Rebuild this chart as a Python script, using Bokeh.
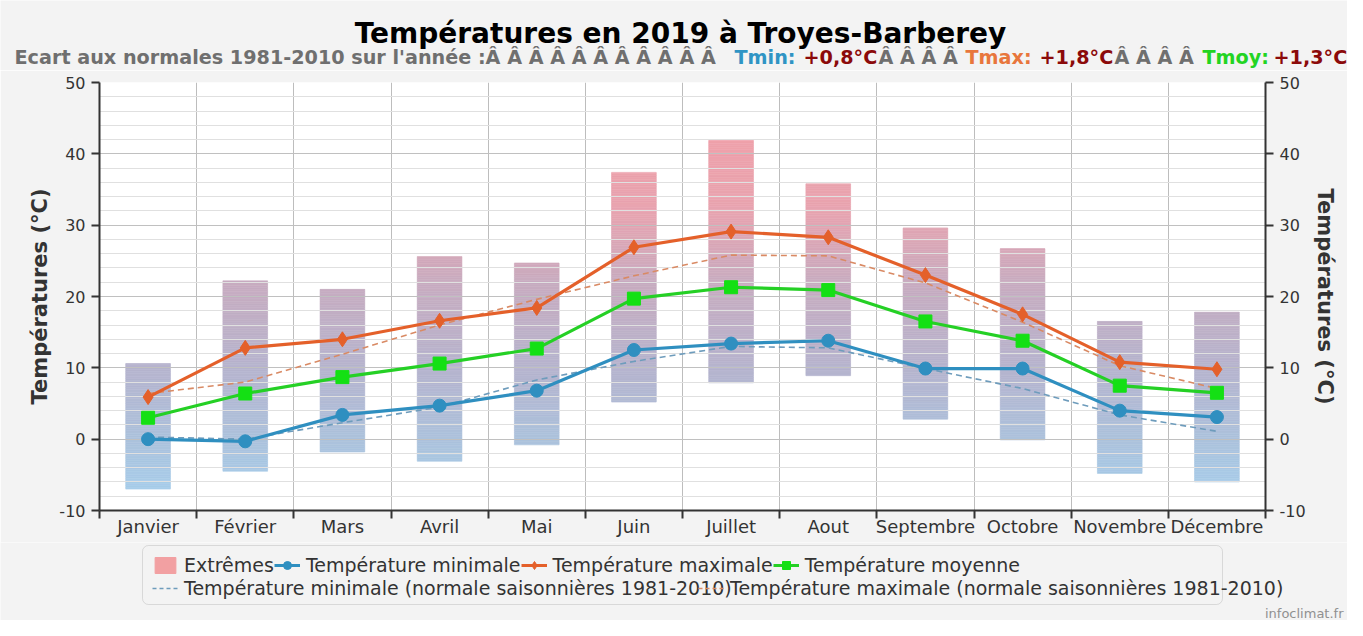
from bokeh.plotting import figure
from bokeh.layouts import column
from bokeh.models import (Range1d, FixedTicker, LinearAxis, Label, Legend, LegendItem,
                          BoxAnnotation)
from bokeh.embed import file_html
from bokeh.resources import INLINE

# ---------------- data ----------------
months = ["Janvier", "Février", "Mars", "Avril", "Mai", "Juin", "Juillet", "Aout",
          "Septembre", "Octobre", "Novembre", "Décembre"]
ext_high = [10.6, 22.2, 21.0, 25.6, 24.7, 37.4, 41.9, 35.8, 29.6, 26.7, 16.5, 17.8]
ext_low = [-7.0, -4.5, -1.8, -3.1, -0.8, 5.2, 7.9, 8.9, 2.8, -0.1, -4.8, -6.0]
tmin = [0.0, -0.3, 3.4, 4.7, 6.8, 12.5, 13.4, 13.8, 9.9, 9.9, 4.0, 3.1]
tmax = [5.9, 12.8, 14.0, 16.6, 18.4, 26.9, 29.1, 28.3, 23.0, 17.5, 10.8, 9.8]
tmoy = [3.0, 6.4, 8.7, 10.6, 12.7, 19.7, 21.3, 20.9, 16.5, 13.8, 7.5, 6.5]
norm_tmin = [0.3, 0.0, 2.3, 4.5, 8.3, 10.9, 13.0, 12.8, 9.9, 7.1, 3.4, 1.1]
norm_tmax = [6.4, 8.0, 11.9, 16.0, 19.6, 22.9, 25.8, 25.7, 21.9, 16.4, 10.3, 7.1]
y_ticks = [-10, 0, 10, 20, 30, 40, 50]
y_tick_labels = {-10: "-10", 0: "0", 10: "10", 20: "20", 30: "30", 40: "40", 50: "50"}

FONT = "DejaVu Sans"
BG = "#f3f3f3"
W = 1347
TOP_H, MAIN_H, BOT_H = 70, 472, 78          # 70 + 472 + 78 = 620
FL, FR = 99, 1265                            # frame left/right (px)
F_TOP, F_BOT = 82, 510                       # frame top/bottom in page-figure px

xs = list(range(len(months)))

BLUE = "#2f8fc0"
ORANGE = "#e4602a"
GREEN = "#25d025"
SQ = "#14e014"
NMIN = "#6e9cbc"
NMAX = "#d98a64"


def bare(h, y0, y1):
    f = figure(width=W, height=h, output_backend="svg", toolbar_location=None,
               x_range=Range1d(0, W), y_range=Range1d(y1, y0),
               x_axis_location=None, y_axis_location=None, min_border=0)
    f.frame_align = False
    f.grid.visible = False
    f.background_fill_color = BG
    f.border_fill_color = BG
    f.outline_line_color = None
    return f


def lab(text, x, y, size, color, bold=False, align="left"):
    return Label(x=x, y=y, text=text, text_font=FONT, text_font_size=f"{size}px",
                 text_color=color, text_font_style="bold" if bold else "normal",
                 text_align=align, text_baseline="alphabetic")


# ================= top: title + subtitle =================
top = bare(TOP_H, 0, TOP_H)
top.add_layout(lab("Températures en 2019 à Troyes-Barberey", 680, 33, 28, "#000000", True, "center"))
GRAY = "#6f6f6f"
DRED = "#8b0a0a"
sub = [
    ("Ecart aux normales 1981-2010 sur l'année :Â Â Â Â Â Â Â Â Â Â Â ", 14, GRAY),
    ("Tmin:", 734, "#2f94c4"),
    ("+0,8°C", 803, DRED),
    ("Â Â Â Â ", 878, GRAY),
    ("Tmax:", 965, "#e8763c"),
    ("+1,8°C", 1039, DRED),
    ("Â Â Â Â ", 1114, GRAY),
    ("Tmoy:", 1202, "#22d422"),
    ("+1,3°C", 1273, DRED),
]
for txt, x, col in sub:
    top.add_layout(lab(txt, x, 57, 19.2, col, True))

# ================= main chart =================
p = figure(width=W, height=MAIN_H, output_backend="svg", toolbar_location=None,
           x_range=Range1d(-0.5, len(months) - 0.5), y_range=Range1d(-10, 50),
           min_border_left=FL, min_border_right=W - FR, min_border_top=F_TOP - TOP_H,
           min_border_bottom=MAIN_H - (F_BOT - TOP_H), x_axis_location=None, y_axis_location=None)
p.frame_align = False
p.background_fill_color = "white"
p.border_fill_color = BG
p.outline_line_color = None

bounds = [i + 0.5 for i in range(len(months) - 1)]
p.xgrid.ticker = FixedTicker(ticks=bounds)
p.xgrid.grid_line_color = "#bdbdbd"
p.ygrid.ticker = FixedTicker(ticks=y_ticks, minor_ticks=list(range(-10, 51, 2)))
p.ygrid.grid_line_color = "#c0c0c0"
p.ygrid.minor_grid_line_color = "#e0e0e0"

xax = LinearAxis(ticker=FixedTicker(ticks=xs, minor_ticks=[i - 0.5 for i in range(len(months) + 1)]),
                 major_label_overrides={i: m for i, m in enumerate(months)})
xax.major_tick_out = 0
xax.major_tick_in = 0
xax.minor_tick_out = 8
xax.minor_tick_in = 0
xax.minor_tick_line_color = "#333333"
xax.minor_tick_line_width = 2
xax.axis_line_color = "#333333"
xax.axis_line_width = 2
xax.major_label_text_font = FONT
xax.major_label_text_font_size = "18px"
xax.major_label_text_color = "#333333"
xax.major_label_standoff = -3
p.add_layout(xax, "below")

for side in ("left", "right"):
    ax = LinearAxis(ticker=FixedTicker(ticks=y_ticks), axis_label="Températures (°C)",
                    major_label_overrides=y_tick_labels)
    ax.major_tick_out = 8
    ax.major_tick_in = 0
    ax.minor_tick_out = 0
    ax.minor_tick_in = 0
    ax.major_tick_line_color = "#333333"
    ax.major_tick_line_width = 2
    ax.axis_line_color = "#333333"
    ax.axis_line_width = 2
    ax.major_label_text_font = FONT
    ax.major_label_text_font_size = "16px"
    ax.major_label_text_color = "#333333"
    ax.major_label_standoff = 6
    ax.axis_label_text_font = FONT
    ax.axis_label_text_font_size = "21px"
    ax.axis_label_text_font_style = "bold"
    ax.axis_label_text_color = "#333333"
    ax.axis_label_standoff = 4
    p.add_layout(ax, side)

# gradient-filled extreme bars
stops = [(-10, (166, 210, 240)), (0, (172, 194, 220)), (10, (182, 180, 206)),
         (22, (200, 172, 192)), (32, (232, 164, 176)), (50, (244, 158, 166))]


def grad(t):
    if t <= stops[0][0]:
        c = stops[0][1]
    elif t >= stops[-1][0]:
        c = stops[-1][1]
    else:
        for (t0, c0), (t1, c1) in zip(stops[:-1], stops[1:]):
            if t0 <= t <= t1:
                f = (t - t0) / (t1 - t0)
                c = tuple(int(round(a + (b - a) * f)) for a, b in zip(c0, c1))
                break
    return "#%02x%02x%02x" % c


bw = 0.46
step = 0.25
L, R, B, T, C = [], [], [], [], []
for i, (lo, hi) in enumerate(zip(ext_low, ext_high)):
    y = lo
    while y < hi - 1e-9:
        y2 = min(y + step, hi)
        L.append(i - bw / 2)
        R.append(i + bw / 2)
        B.append(y)
        T.append(y2)
        C.append(grad((y + y2) / 2))
        y = y2
bars = p.quad(left=L, right=R, bottom=B, top=T, fill_color=C, line_color=C, line_width=0.6)
bars.level = "image"

p.line(xs, norm_tmin, line_color=NMIN, line_width=1.6, line_dash="6 4")
p.line(xs, norm_tmax, line_color=NMAX, line_width=1.6, line_dash="6 4")
p.line(xs, tmin, line_color=BLUE, line_width=3.2)
p.scatter(xs, tmin, marker="circle", size=13, fill_color=BLUE, line_color=BLUE)
p.line(xs, tmax, line_color=ORANGE, line_width=3.2)
p.scatter(xs, tmax, marker="diamond", size=15, fill_color=ORANGE, line_color=ORANGE)
p.line(xs, tmoy, line_color=GREEN, line_width=3.2)
p.scatter(xs, tmoy, marker="square", size=13, fill_color=SQ, line_color=SQ)

# ================= bottom: legend =================
Y0 = TOP_H + MAIN_H
bot = bare(BOT_H, Y0, Y0 + BOT_H)
bot.add_layout(BoxAnnotation(left=142, right=1222, top=545, bottom=604,
                             fill_color=BG, fill_alpha=1.0, line_color="#9a9a9a",
                             line_width=1, border_radius=6))

# legend proxies: placed far outside the visible range so only their legend glyph shows
OX, OY = [-1000, -999], [-1000, -999]
e_r = bot.quad(left=[-1000], right=[-999], bottom=[-1000], top=[-999],
               fill_color="#f2a0a2", line_color="#f2a0a2")
lmin = bot.line(OX, OY, line_color=BLUE, line_width=3)
smin = bot.scatter(OX, OY, marker="circle", size=13, fill_color=BLUE, line_color=BLUE)
lmax = bot.line(OX, OY, line_color=ORANGE, line_width=3)
smax = bot.scatter(OX, OY, marker="diamond", size=15, fill_color=ORANGE, line_color=ORANGE)
lmoy = bot.line(OX, OY, line_color=GREEN, line_width=3)
smoy = bot.scatter(OX, OY, marker="square", size=13, fill_color=SQ, line_color=SQ)
nmin = bot.line(OX, OY, line_color=NMIN, line_width=1.6, line_dash="4 3")
nmax = bot.line(OX, OY, line_color=NMAX, line_width=1.6, line_dash="4 3")


def mk_legend(items, x, ybottom):
    lg = Legend(items=items, orientation="horizontal", location=(x, ybottom))
    lg.border_line_color = None
    lg.background_fill_alpha = 0
    lg.padding = 0
    lg.margin = 0
    lg.spacing = 0
    lg.glyph_width = 26
    lg.glyph_height = 20
    lg.label_height = 20
    lg.label_standoff = 6
    lg.label_text_font = FONT
    lg.label_text_font_size = "19px"
    lg.label_text_color = "#333333"
    return lg


bot.add_layout(mk_legend([
    LegendItem(label="Extrêmes", renderers=[e_r]),
    LegendItem(label="Température minimale", renderers=[lmin, smin]),
    LegendItem(label="Température maximale", renderers=[lmax, smax]),
    LegendItem(label="Température moyenne", renderers=[lmoy, smoy]),
], 152, Y0 + BOT_H - 576))
bot.add_layout(mk_legend([LegendItem(label="Température minimale (normale saisonnières 1981-2010)",
                                     renderers=[nmin])], 152, Y0 + BOT_H - 599))
bot.add_layout(mk_legend([LegendItem(label="Température maximale (normale saisonnières 1981-2010)",
                                     renderers=[nmax])], 698, Y0 + BOT_H - 599))
bot.add_layout(lab("infoclimat.fr", 1343, 613, 13, "#909090", False, "right"))

layout = column(top, p, bot, spacing=0)
open("out.html", "w").write(file_html(layout, INLINE))
